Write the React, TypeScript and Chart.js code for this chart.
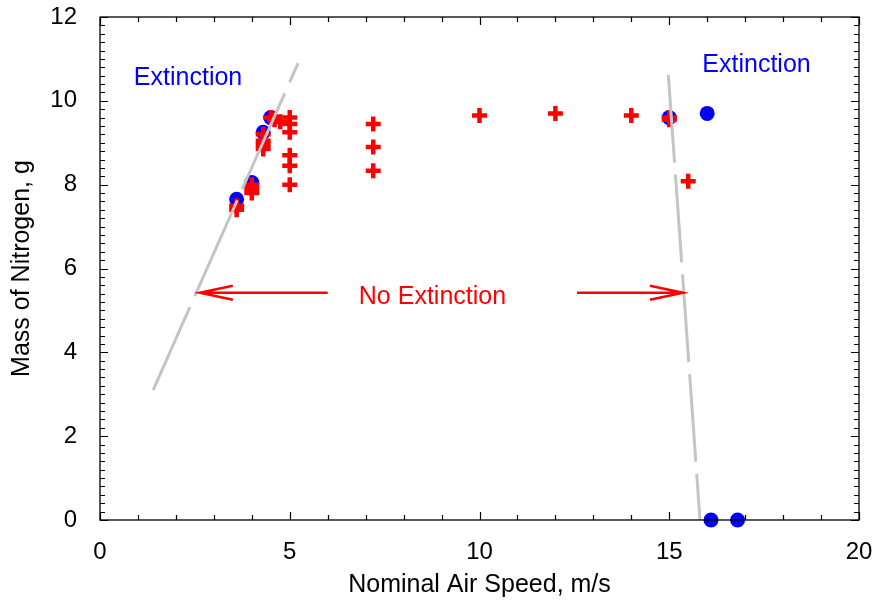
import { useEffect, useRef } from "react";
import { Chart, registerables } from "chart.js";

Chart.register(...registerables);

// Axis tick labels
const xTickValues = [0, 5, 10, 15, 20];
const yTickValues = [0, 2, 4, 6, 8, 10, 12];
const xMinorStep = 1;
const yMinorStep = 0.2;

// Runs where the flame went out (blue circles)
const extinctionSpeed = [3.6, 4.0, 4.3, 4.5, 15.0, 16.0, 16.1, 16.8];
const extinctionMass = [7.65, 8.05, 9.25, 9.6, 9.6, 9.7, 0, 0];

// Runs where the flame survived (red crosses)
const noExtinctionSpeed = [
  3.6, 3.6,
  4.0, 4.0, 4.0,
  4.3, 4.3, 4.3, 4.3,
  4.5, 4.6, 4.75,
  5.0, 5.0, 5.0, 5.0, 5.0, 5.0,
  7.2, 7.2, 7.2,
  10.0, 12.0, 14.0,
  15.0, 15.0, 15.5,
];
const noExtinctionMass = [
  7.5, 7.4,
  8.0, 7.9, 7.8,
  9.2, 9.05, 8.95, 8.85,
  9.6, 9.55, 9.5,
  9.6, 9.45, 9.25, 8.7, 8.45, 8.0,
  9.45, 8.9, 8.33,
  9.65, 9.7, 9.65,
  9.6, 9.55, 8.08,
];

// Dashed boundary lines between the regimes
const lowBoundarySpeed = [5.22, 1.4];
const lowBoundaryMass = [10.9, 3.1];
const highBoundarySpeed = [14.97, 15.81];
const highBoundaryMass = [10.69, 0];

// Arrows (tail -> head) and region labels
const arrowMass = 5.42;
const leftArrowSpeed = [6.0, 2.63];
const rightArrowSpeed = [12.57, 15.36];

const regionLabels = ["Extinction", "Extinction", "No Extinction"];
const regionLabelSpeed = [2.32, 17.3, 8.76];
const regionLabelMass = [10.54, 10.85, 5.32];
const regionLabelColor = ["#0000ff", "#0000ff", "#ff0000"];

const FONT = "'Liberation Sans', Arial, sans-serif";

const toPoints = (xs: number[], ys: number[]) => xs.map((x, i) => ({ x, y: ys[i] }));

const decorPlugin = {
  id: "decor",
  afterDatasetsDraw(chart: any) {
    const { ctx, scales } = chart;
    const x = scales.x;
    const y = scales.y;
    ctx.save();

    // Arrows
    ctx.strokeStyle = "#ff0000";
    ctx.lineWidth = 2.5;
    const drawArrow = (from: number, to: number) => {
      const yy = y.getPixelForValue(arrowMass);
      const x0 = x.getPixelForValue(from);
      const x1 = x.getPixelForValue(to);
      const dir = Math.sign(x1 - x0);
      ctx.beginPath();
      ctx.moveTo(x0, yy);
      ctx.lineTo(x1, yy);
      ctx.moveTo(x1 - dir * 33, yy - 7);
      ctx.lineTo(x1, yy);
      ctx.lineTo(x1 - dir * 33, yy + 7);
      ctx.stroke();
    };
    drawArrow(leftArrowSpeed[0], leftArrowSpeed[1]);
    drawArrow(rightArrowSpeed[0], rightArrowSpeed[1]);

    // Region labels
    ctx.font = `25px ${FONT}`;
    ctx.textAlign = "center";
    ctx.textBaseline = "middle";
    regionLabels.forEach((t, i) => {
      ctx.fillStyle = regionLabelColor[i];
      ctx.fillText(t, x.getPixelForValue(regionLabelSpeed[i]), y.getPixelForValue(regionLabelMass[i]));
    });
    ctx.restore();
  },
  afterDraw(chart: any) {
    const { ctx, chartArea: a, scales } = chart;
    const x = scales.x;
    const y = scales.y;
    ctx.save();
    ctx.strokeStyle = "#000000";
    ctx.lineWidth = 1.3;
    ctx.strokeRect(a.left, a.top, a.right - a.left, a.bottom - a.top);

    ctx.lineWidth = 1.2;
    ctx.beginPath();
    // x ticks, bottom and top, pointing inward
    const xMin = xTickValues[0];
    const xMax = xTickValues[xTickValues.length - 1];
    for (let i = 0; xMin + i * xMinorStep <= xMax + 1e-9; i++) {
      const v = xMin + i * xMinorStep;
      const px = Math.round(x.getPixelForValue(v)) + 0.5;
      const len = xTickValues.some((t) => Math.abs(t - v) < 1e-9) ? 8 : 5;
      ctx.moveTo(px, a.bottom);
      ctx.lineTo(px, a.bottom - len);
      ctx.moveTo(px, a.top);
      ctx.lineTo(px, a.top + len);
    }
    // y ticks, left and right, pointing inward
    const yMin = yTickValues[0];
    const yMax = yTickValues[yTickValues.length - 1];
    for (let i = 0; yMin + i * yMinorStep <= yMax + 1e-9; i++) {
      const v = yMin + i * yMinorStep;
      const py = Math.round(y.getPixelForValue(v)) + 0.5;
      const len = yTickValues.some((t) => Math.abs(t - v) < 1e-6) ? 8 : 5;
      ctx.moveTo(a.left, py);
      ctx.lineTo(a.left + len, py);
      ctx.moveTo(a.right, py);
      ctx.lineTo(a.right - len, py);
    }
    ctx.stroke();
    ctx.restore();
  },
};

export default function App() {
  const canvasRef = useRef<HTMLCanvasElement | null>(null);

  useEffect(() => {
    const canvas = canvasRef.current;
    if (!canvas) return;
    const chart = new Chart(canvas, {
      type: "scatter",
      data: {
        datasets: [
          {
            type: "line",
            data: toPoints(lowBoundarySpeed, lowBoundaryMass),
            borderColor: "#c4c4c4",
            borderWidth: 3,
            borderDash: [105, 12],
            borderDashOffset: 84,
            pointRadius: 0,
            fill: false,
            showLine: true,
            clip: false,
          },
          {
            type: "line",
            data: toPoints(highBoundarySpeed, highBoundaryMass),
            borderColor: "#c4c4c4",
            borderWidth: 3,
            borderDash: [88, 12],
            borderDashOffset: -3,
            pointRadius: 0,
            fill: false,
            showLine: true,
            clip: false,
          },
          {
            data: toPoints(noExtinctionSpeed, noExtinctionMass),
            pointStyle: "cross",
            pointRadius: 7.5,
            borderColor: "#ff0000",
            backgroundColor: "#ff0000",
            borderWidth: 4.5,
            clip: false,
          },
          {
            data: toPoints(extinctionSpeed, extinctionMass),
            pointStyle: "circle",
            pointRadius: 7.5,
            borderWidth: 0,
            backgroundColor: "#0000ff",
            borderColor: "#0000ff",
            clip: false,
          },
        ],
      },
      options: {
        animation: false,
        responsive: true,
        maintainAspectRatio: false,
        layout: { padding: { top: 17, right: 13, left: 0, bottom: 0 } },
        plugins: {
          legend: { display: false },
          tooltip: { enabled: false },
        },
        scales: {
          x: {
            type: "linear",
            min: xTickValues[0],
            max: xTickValues[xTickValues.length - 1],
            grid: { display: false },
            border: { display: false },
            afterBuildTicks: (s: any) => {
              s.ticks = xTickValues.map((value) => ({ value }));
            },
            afterFit: (s: any) => {
              s.height = 83;
              s.paddingLeft = 0;
              s.paddingRight = 0;
            },
            ticks: {
              color: "#000000",
              font: { family: FONT, size: 24 },
              padding: 10,
              maxRotation: 0,
            },
            title: {
              display: true,
              text: "Nominal Air Speed, m/s",
              color: "#000000",
              font: { family: FONT, size: 25 },
              padding: { top: 0, bottom: 3 },
            },
          },
          y: {
            type: "linear",
            min: yTickValues[0],
            max: yTickValues[yTickValues.length - 1],
            grid: { display: false },
            border: { display: false },
            afterBuildTicks: (s: any) => {
              s.ticks = yTickValues.map((value) => ({ value }));
            },
            afterFit: (s: any) => {
              s.width = 100;
              s.paddingTop = 0;
              s.paddingBottom = 0;
            },
            ticks: {
              color: "#000000",
              font: { family: FONT, size: 24 },
              padding: 15,
            },
            title: {
              display: true,
              text: "Mass of Nitrogen, g",
              color: "#000000",
              font: { family: FONT, size: 25 },
              padding: { top: 7, bottom: 0 },
            },
          },
        },
      },
      plugins: [decorPlugin],
    } as any);
    return () => chart.destroy();
  }, []);

  return (
    <div style={{ position: "fixed", left: 0, top: 0, width: 872, height: 603, background: "#ffffff" }}>
      <canvas ref={canvasRef} />
    </div>
  );
}
